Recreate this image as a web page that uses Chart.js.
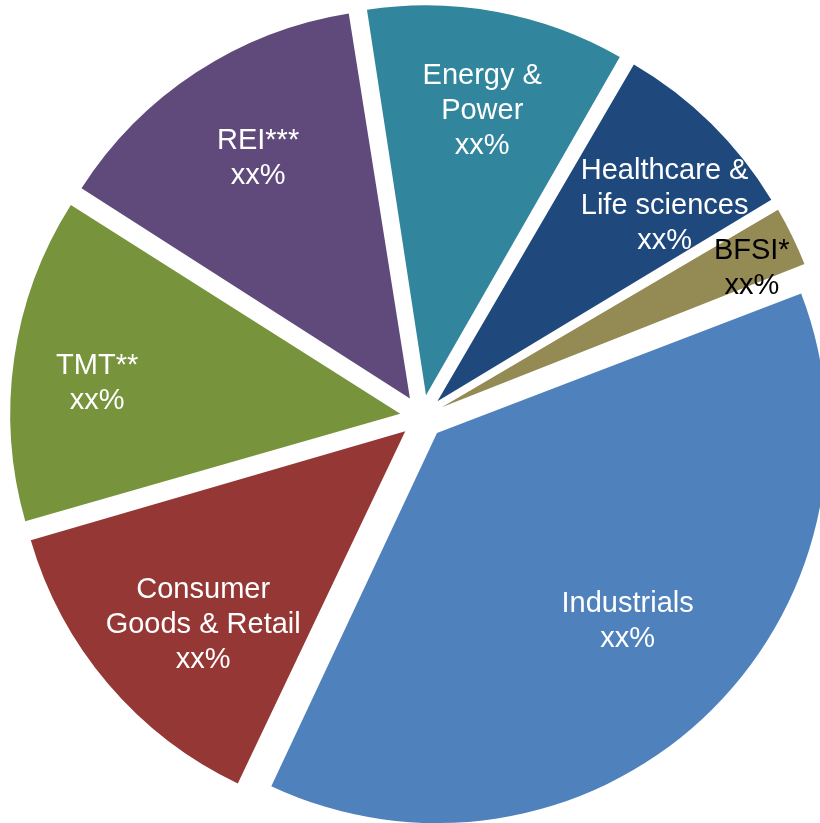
<!DOCTYPE html>
<html>
<head>
<meta charset="utf-8">
<title>Sector split</title>
<script src="https://cdn.jsdelivr.net/npm/chart.js@4.4.1/dist/chart.umd.min.js"></script>
<style>
    html, body { margin: 0; padding: 0; background: #fff; overflow: hidden; }
    #wrap { position: absolute; left: 0; top: 0; width: 844px; height: 834px; }
</style>
</head>
<body>
<div id="wrap"><canvas id="sectorChart"></canvas></div>
<script>
// sectors, clockwise from just left of 12 o'clock
const categories = [
    ['Energy &', 'Power'],
    ['Healthcare &', 'Life sciences'],
    ['BFSI*'],
    ['Industrials'],
    ['Consumer', 'Goods & Retail'],
    ['TMT**'],
    ['REI***']
];
const shares = [10.8, 8.1, 2.7, 37.9, 13.5, 13.5, 13.5];
const shareText = ['xx%', 'xx%', 'xx%', 'xx%', 'xx%', 'xx%', 'xx%'];

const colors = ['#31859C', '#1F497D', '#948A54', '#4F81BD', '#953735', '#77933C', '#604A7B'];
const textColors = ['#fff', '#fff', '#000', '#fff', '#fff', '#fff', '#fff'];

const explode = 22;       // px each slice is pulled out
const pieRadius = 390;

// where the label sits along the slice (fraction of radius) plus a small nudge
const labelDist = [0.746, 0.768, 0.873, 0.684, 0.714, 0.780, 0.73];
const labelNudge = [[3, 2], [17, 18], [4, 10], [9, -7], [10, 13], [-2, 13], [4, -2]];

// chart.js grows small exploded slices; keep every slice at the same radius
const evenRadius = {
    id: 'evenRadius',
    beforeDatasetsDraw(chart) {
        const meta = chart.getDatasetMeta(0);
        const base = meta.controller.outerRadius;
        meta.data.forEach(arc => {
            const c = arc.endAngle - arc.startAngle;
            const fix = 1 - Math.sin(Math.min(Math.PI, c));
            arc.outerRadius = base - explode * fix;
        });
    }
};

const sliceLabels = {
    id: 'sliceLabels',
    afterDatasetsDraw(chart) {
        const ctx = chart.ctx;
        const meta = chart.getDatasetMeta(0);
        const R = meta.controller.outerRadius;
        ctx.save();
        ctx.font = '29px "Liberation Sans", Arial, sans-serif';
        ctx.textAlign = 'center';
        ctx.textBaseline = 'middle';
        meta.data.forEach((arc, i) => {
            const mid = (arc.startAngle + arc.endAngle) / 2;
            const d = explode + labelDist[i] * R;
            const x = arc.x + Math.cos(mid) * d + labelNudge[i][0];
            const y = arc.y + Math.sin(mid) * d + labelNudge[i][1];
            const lines = categories[i].concat(shareText[i]);
            const lh = 35;
            ctx.fillStyle = textColors[i];
            lines.forEach((t, k) => {
                ctx.fillText(t, x, y + (k - (lines.length - 1) / 2) * lh);
            });
        });
        ctx.restore();
    }
};

const chart = new Chart(document.getElementById('sectorChart'), {
    type: 'pie',
    data: {
        labels: categories,
        datasets: [{
            data: shares,
            backgroundColor: colors,
            borderWidth: 0,
            offset: explode * 4
        }]
    },
    options: {
        responsive: true,
        maintainAspectRatio: false,
        animation: false,
        events: [],
        rotation: -8.9,
        radius: pieRadius,
        layout: { padding: 0 },
        plugins: {
            legend: { display: false },
            tooltip: { enabled: false }
        }
    },
    plugins: [evenRadius, sliceLabels]
});
</script>
</body>
</html>
